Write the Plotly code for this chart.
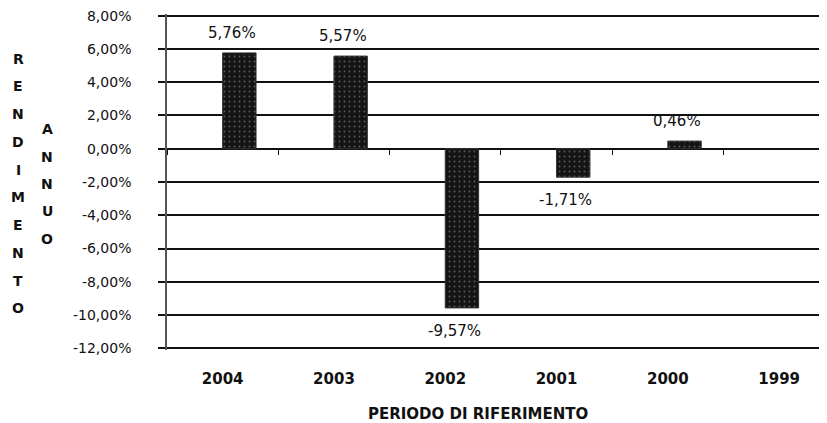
import plotly.graph_objects as go

# dati
anni = ["2004", "2003", "2002", "2001", "2000", "1999"]
rendimento = [5.76, 5.57, -9.57, -1.71, 0.46, None]
y_ticks = [8, 6, 4, 2, 0, -2, -4, -6, -8, -10, -12]

titolo_y1 = "RENDIMENTO"
titolo_y2 = "ANNUO"
titolo_x = "PERIODO DI RIFERIMENTO"

FONT = "DejaVu Sans"
INK = "#111111"

# the page body adds 8px around the figure
PAD = 8
W, H = 827 - PAD, 423 - PAD
y_range = [-12.1, 8.1]   # a bit of room so the end gridlines are drawn
left, right, top, bottom = 167 - PAD, 0, 4, H - 342
plot_w = W - left - right
plot_h = H - top - bottom


def fmt_pct(v):
    return f"{v:.2f}".replace(".", ",") + "&#37;"


def to_paper(px, py):
    """page pixel -> paper coords of the plot area"""
    return (px - PAD - left) / plot_w, 1 - (py - PAD - top) / plot_h


fig = go.Figure()

# barre: seconda serie del gruppo (metà destra della categoria)
fig.add_trace(go.Bar(
    x=anni,
    y=rendimento,
    offset=0,
    width=0.3,
    marker=dict(
        color="#141414",
        line=dict(color="#333333", width=1),
        pattern=dict(shape=".", bgcolor="#141414", fgcolor="#9a9a9a",
                     size=5, solidity=0.12),
    ),
    hoverinfo="skip",
    showlegend=False,
))

# traccia invisibile per l'asse delle categorie sullo zero (tacche)
fig.add_trace(go.Scatter(
    x=anni, y=[0] * len(anni), xaxis="x2", mode="markers",
    marker=dict(opacity=0), hoverinfo="skip", showlegend=False,
))

# etichette dati (x = indice di categoria)
for i, v in enumerate(rendimento):
    if v is None:
        continue
    fig.add_annotation(
        x=i, y=v, text=fmt_pct(v), showarrow=False,
        xanchor="center", yanchor="middle",
        xshift=9, yshift=20 if v > 0 else -23,
        font=dict(family=FONT, size=15, color=INK),
    )

# titoli asse y, lettere impilate
for i, ch in enumerate(titolo_y1):
    x, y = to_paper(18, 57 + i * 27.9)
    fig.add_annotation(
        x=x, y=y, xref="paper", yref="paper", text=f"<b>{ch}</b>",
        xanchor="center", yanchor="middle",
        showarrow=False, font=dict(family=FONT, size=14, color=INK),
    )
for i, ch in enumerate(titolo_y2):
    x, y = to_paper(47, 128 + i * 27.5)
    fig.add_annotation(
        x=x, y=y, xref="paper", yref="paper", text=f"<b>{ch}</b>",
        xanchor="center", yanchor="middle",
        showarrow=False, font=dict(family=FONT, size=14, color=INK),
    )

x, y = to_paper(478, 414)
fig.add_annotation(
    x=x, y=y, xref="paper", yref="paper", text=f"<b>{titolo_x}</b>",
    xanchor="center", yanchor="middle",
    showarrow=False, font=dict(family=FONT, size=15, color=INK),
)

fig.update_layout(
    width=W,
    height=H,
    margin=dict(l=left, r=right, t=top, b=bottom),
    paper_bgcolor="white",
    plot_bgcolor="white",
    xaxis=dict(
        type="category",
        categoryorder="array",
        categoryarray=anni,
        range=[-0.5, 5.43],
        showline=False,
        showgrid=False,
        zeroline=False,
        ticks="",
        ticklabelstandoff=18,
        tickfont=dict(family=FONT, size=15, color=INK, weight="bold"),
    ),
    xaxis2=dict(
        type="category",
        categoryorder="array",
        categoryarray=anni,
        overlaying="x",
        matches="x",
        anchor="free",
        position=(0 - y_range[0]) / (y_range[1] - y_range[0]),
        showline=False,
        showgrid=False,
        zeroline=False,
        showticklabels=False,
        ticks="outside",
        tickson="boundaries",
        ticklen=5,
        tickwidth=1.2,
        tickcolor=INK,
    ),
    yaxis=dict(
        range=y_range,
        tickvals=y_ticks,
        ticktext=[fmt_pct(v) for v in y_ticks],
        showgrid=True,
        gridcolor=INK,
        gridwidth=1.5,
        zeroline=True,
        zerolinecolor=INK,
        zerolinewidth=1.5,
        showline=True,
        linecolor="#555555",
        linewidth=1.5,
        ticks="outside",
        ticklen=7,
        tickwidth=1.5,
        tickcolor=INK,
        ticklabelstandoff=24,
        ticklabeloverflow="allow",
        tickfont=dict(family=FONT, size=14, color=INK),
    ),
)

fig.write_html("out.html")
